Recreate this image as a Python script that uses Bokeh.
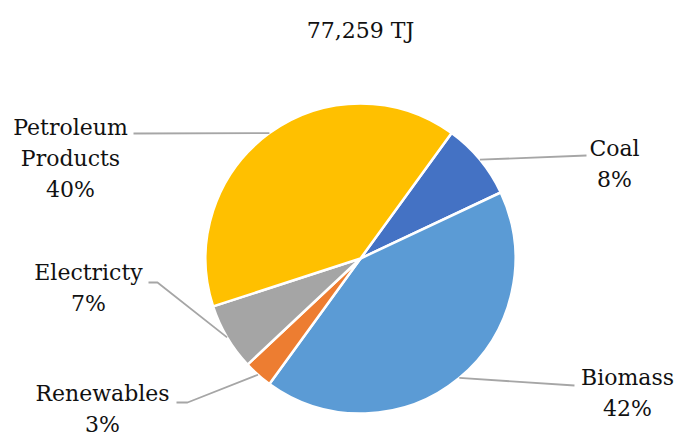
import numpy as np
from bokeh.plotting import figure
from bokeh.models import Range1d
from bokeh.core.properties import value
from bokeh.embed import file_html
from bokeh.resources import INLINE

# ---- data ----
categories = ["Coal", "Biomass", "Renewables", "Electricty", "Petroleum Products"]
shares = [8, 42, 3, 7, 40]
colors = ["#4472C4", "#5B9BD5", "#ED7D31", "#A5A5A5", "#FFC000"]
title_text = "77,259 TJ"

# ---- layout (pixel coords, top-left origin) ----
W, H = 676, 436
CX, CY, R = 360, 258, 155
START_CW_FROM_TOP = 36.0  # degrees, clockwise from 12 o'clock
FONT = "DejaVu Serif"
FS = "22px"
LINE_H = 31

label_lines = {
    "Coal": ["Coal"],
    "Biomass": ["Biomass"],
    "Renewables": ["Renewables"],
    "Electricty": ["Electricty"],
    "Petroleum Products": ["Petroleum", "Products"],
}
label_pos = {  # center x, first line center y
    "Coal": (614, 148),
    "Biomass": (627, 377),
    "Renewables": (102, 393),
    "Electricty": (88, 272),
    "Petroleum Products": (70, 127),
}
leader_outer = {  # points from label side toward pie
    "Coal": [(586, 155)],
    "Biomass": [(574, 385)],
    "Renewables": [(176, 402), (187, 402)],
    "Electricty": [(148, 282), (157, 282)],
    "Petroleum Products": [(133, 133)],
}


def fy(y):
    return H - y


p = figure(width=W, height=H, output_backend="svg", toolbar_location=None,
           x_range=Range1d(0, W), y_range=Range1d(0, H), min_border=0)
p.axis.visible = False
p.grid.visible = False
p.outline_line_color = None
p.background_fill_color = "white"
p.border_fill_color = "white"

total = float(sum(shares))
cum = START_CW_FROM_TOP
starts, ends, mids = [], [], []
for s in shares:
    a0 = cum
    a1 = cum + 360.0 * s / total
    starts.append(np.radians(90 - a0))
    ends.append(np.radians(90 - a1))
    mids.append((a0 + a1) / 2)
    cum = a1

p.wedge(x=CX, y=fy(CY), radius=R, start_angle=starts, end_angle=ends,
        direction="clock", fill_color=colors, line_color="white", line_width=2.5)

# leader lines
for cat, m in zip(categories, mids):
    th = np.radians(m)
    px = CX + R * 1.0 * np.sin(th)
    py = CY - R * 1.0 * np.cos(th)
    pts = leader_outer[cat] + [(px, py)]
    p.line([q[0] for q in pts], [fy(q[1]) for q in pts], line_color="#A6A6A6", line_width=1.8)

# labels
for cat, s in zip(categories, shares):
    lx, ly = label_pos[cat]
    lines = label_lines[cat] + [f"{s}%"]
    for i, t in enumerate(lines):
        p.text(x=[lx], y=[fy(ly + i * LINE_H)], text=[t], text_align="center",
               text_baseline="middle", text_font=value(FONT), text_font_size=FS,
               text_color="#111111")

p.text(x=[360], y=[fy(30)], text=[title_text], text_align="center", text_baseline="middle",
       text_font=value(FONT), text_font_size=FS, text_color="#111111")

open("out.html", "w").write(file_html(p, INLINE))
